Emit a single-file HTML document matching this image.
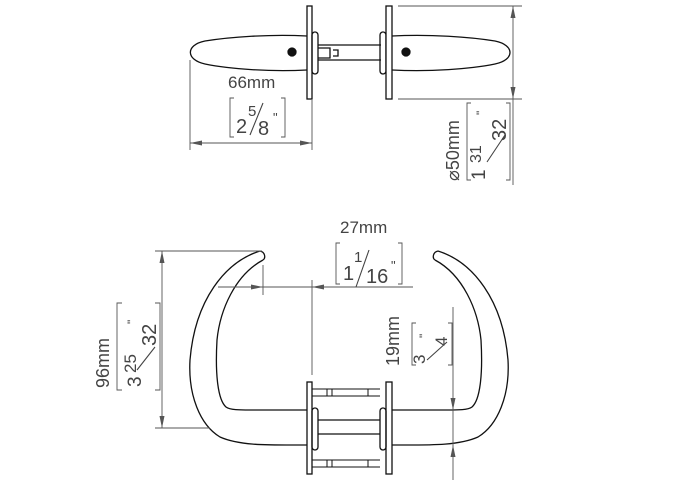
<!DOCTYPE html>
<html><head><meta charset="utf-8"><style>
html,body{margin:0;padding:0;background:#fff;width:678px;height:480px;overflow:hidden}
text{font-family:"Liberation Sans",sans-serif;fill:#444}
</style></head><body>
<svg width="678" height="480" viewBox="0 0 678 480" xmlns="http://www.w3.org/2000/svg">
<g fill="none" stroke="#111" stroke-width="1.3">
<path d="M307,36 C270,34 230,37 205,41 C185,45 186,60 205,64 C230,69 270,72 307,70"/>
<circle cx="292" cy="52" r="4" fill="#111"/>
<rect x="307" y="6" width="5" height="93" fill="#fff"/>
<rect x="312" y="32" width="6" height="42" rx="3"/>
<path d="M318,45 H381 M318,60 H381 M318,48 H330 V58 H318 M333,50 H338 V56 H333"/>
<rect x="380" y="32" width="6" height="42" rx="3"/>
<rect x="386" y="6" width="6" height="93" fill="#fff"/>
<path d="M392,36 C430,34 470,37 495,41 C515,45 515,60 495,64 C470,69 430,72 392,70"/>
<circle cx="406" cy="52" r="4" fill="#111"/>
<path d="M260,251 C225,262 195,300 190,360 C188,395 200,425 220,437 C240,446 270,445 307,445"/>
<path d="M263,260 C235,275 220,310 217,340 C215,375 218,400 226,407 C230,410 240,410 250,410 H307"/>
<path d="M260,251 C265,252 266,258 263,260"/>
<path d="M438,251 C473,262 503,300 508,360 C510,395 498,425 478,437 C458,446 428,445 392,445"/>
<path d="M435,260 C463,275 478,310 481,340 C483,375 480,400 472,407 C468,410 458,410 448,410 H392"/>
<path d="M438,251 C433,252 432,258 435,260"/>
<rect x="307" y="382" width="5" height="92" fill="#fff"/>
<rect x="386" y="382" width="6" height="92" fill="#fff"/>
<rect x="312" y="408" width="6" height="42" rx="3"/>
<rect x="380" y="408" width="6" height="42" rx="3"/>
<path d="M318,420 H380 M318,434 H380"/>
<path d="M312,389 H380 M312,396 H380 M312,460 H380 M312,467 H380" stroke-width="1"/>
<path d="M327,389 V396 M332,389 V396 M368,389 V396 M327,460 V467 M332,460 V467 M368,460 V467" stroke-width="1"/>
</g>
<g fill="none" stroke="#555" stroke-width="0.9">
<path d="M190,60 V150 M312,100 V150 M190,143 H312"/>
<path d="M234,98 H230 V137 H234 M281,98 H285 V137 H281"/>
<path d="M398,6 H522 M398,99 H522 M513,6 V185"/>
<path d="M471,103 H467 V180 H471 M506,103 H510 V180 H506"/>
<path d="M155,251 H262 M155,428 H210 M162,251 V428"/>
<path d="M122,303 H117 V390 H122 M155,303 H160 V390 H155"/>
<path d="M263,265 V295 M312,280 V375 M218,287 H413"/>
<path d="M340,243 H336 V284 H340 M398,243 H402 V284 H398"/>
<path d="M453,307 V480"/>
<path d="M416,323 H412 V365 H416 M448,323 H452 V365 H448"/>
<path d="M250,135 L263,103 M356,287 L369,250 M487,162 L505,135 M137,370 L155,347 M427,360 L447,342" stroke="#444" stroke-width="1.1"/>
</g>
<g fill="#555">
<path d="M190,143 l12,-2.5 v5z M312,143 l-12,-2.5 v5z"/>
<path d="M513,6 l-2.5,12 h5z M513,99 l-2.5,-12 h5z"/>
<path d="M162,251 l-2.5,12 h5z M162,428 l-2.5,-12 h5z"/>
<path d="M263,287 l-12,-2.5 v5z M312,287 l12,-2.5 v5z"/>
<path d="M453,410 l-2.5,-12 h5z M453,445 l-2.5,12 h5z"/>
</g>
<text x="228" y="88" font-size="17">66mm</text>
<text x="236" y="133" font-size="20">2</text>
<text x="248" y="116" font-size="15">5</text>
<text x="258" y="135" font-size="20">8</text>
<text x="273" y="122" font-size="13">"</text>
<g transform="translate(459,181) rotate(-90)"><text x="0" y="0" font-size="18">⌀50mm</text></g>
<g transform="translate(482,181) rotate(-90)">
<text x="1" y="3" font-size="19">1</text>
<text x="18" y="-1" font-size="16">31</text>
<text x="40" y="24" font-size="20">32</text>
<text x="66" y="3" font-size="12">"</text></g>
<text x="340" y="233" font-size="17">27mm</text>
<text x="343" y="280" font-size="20">1</text>
<text x="354" y="262" font-size="15">1</text>
<text x="366" y="283" font-size="20">16</text>
<text x="391" y="270" font-size="13">"</text>
<g transform="translate(109,388) rotate(-90)"><text x="0" y="0" font-size="18">96mm</text></g>
<g transform="translate(140,388) rotate(-90)">
<text x="1" y="1" font-size="19">3</text>
<text x="15" y="-4" font-size="17">25</text>
<text x="42" y="16" font-size="20">32</text>
<text x="64" y="-4" font-size="12">"</text></g>
<g transform="translate(399,366) rotate(-90)"><text x="0" y="0" font-size="18">19mm</text></g>
<g transform="translate(425,366) rotate(-90)">
<text x="2" y="0" font-size="17">3</text>
<text x="20" y="22" font-size="17">4</text>
<text x="28" y="3" font-size="12">"</text></g>
</svg>
</body></html>
